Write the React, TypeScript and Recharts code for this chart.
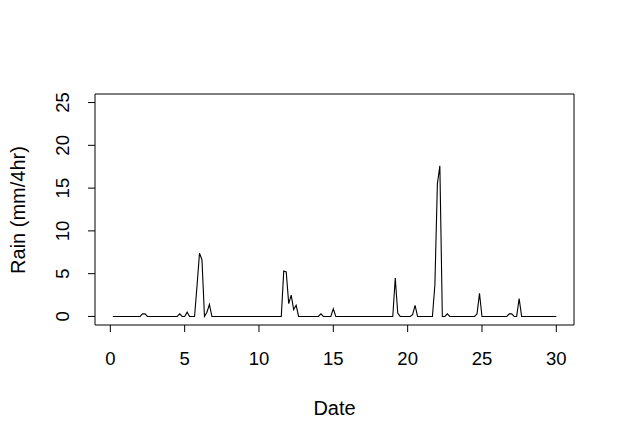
import { LineChart, Line, XAxis, YAxis, ReferenceArea } from 'recharts'

// rain (mm per 4 hr), one row per day: values at d+1/6, d+2/6 ... d+1
const RAIN_BY_DAY = [
  [0, 0, 0, 0, 0, 0],
  [0, 0, 0, 0, 0, 0],
  [0.3, 0.3, 0, 0, 0, 0],
  [0, 0, 0, 0, 0, 0],
  [0, 0, 0, 0.3, 0, 0],
  [0.5, 0, 0, 0, 3.6, 7.4],
  [6.6, 0, 0.5, 1.4, 0, 0],
  [0, 0, 0, 0, 0, 0],
  [0, 0, 0, 0, 0, 0],
  [0, 0, 0, 0, 0, 0],
  [0, 0, 0, 0, 0, 0],
  [0, 0, 0, 5.3, 5.2, 1.5],
  [2.5, 0.8, 1.3, 0, 0, 0],
  [0, 0, 0, 0, 0, 0],
  [0.3, 0, 0, 0, 0, 0.9],
  [0, 0, 0, 0, 0, 0],
  [0, 0, 0, 0, 0, 0],
  [0, 0, 0, 0, 0, 0],
  [0, 0, 0, 0, 0, 0],
  [4.5, 0.4, 0, 0, 0, 0],
  [0, 0.2, 1.3, 0, 0, 0],
  [0, 0, 0, 0, 3.7, 15.5],
  [17.6, 0, 0, 0.3, 0, 0],
  [0, 0, 0, 0, 0, 0],
  [0, 0, 0, 0.3, 2.7, 0],
  [0, 0, 0, 0, 0, 0],
  [0, 0, 0, 0, 0.3, 0.3],
  [0, 0, 2.1, 0, 0, 0],
  [0, 0, 0, 0, 0, 0],
  [0, 0, 0, 0, 0, 0],
]

const STEPS_PER_DAY = 6
const X_TICKS = [0, 5, 10, 15, 20, 25, 30]
const Y_TICKS = [0, 5, 10, 15, 20, 25]
const X_DOMAIN = [-1.03, 31.19]
const Y_DOMAIN = [-1, 26]

const data = RAIN_BY_DAY.flatMap((row, d) =>
  row.map((rain, j) => ({ date: d + (j + 1) / STEPS_PER_DAY, rain }))
)

const FONT = '"Liberation Sans", Arial, sans-serif'

const XTick = ({ x, y, payload }: any) => (
  <text x={x} y={y} dy="0.71em" textAnchor="middle" fontSize={18.5} fontFamily={FONT} fill="#000">
    {payload.value}
  </text>
)

const YTick = ({ x, y, payload }: any) => (
  <text
    x={x}
    y={y}
    transform={`rotate(-90, ${x}, ${y})`}
    textAnchor="middle"
    fontSize={18.5}
    fontFamily={FONT}
    fill="#000"
  >
    {payload.value}
  </text>
)

export default function App() {
  return (
    <div style={{ position: 'absolute', left: 0, top: 0, width: 623, height: 442, background: '#fff' }}>
      <LineChart
        width={623}
        height={442}
        data={data}
        margin={{ top: 94, right: 49, bottom: 77, left: 55 }}
      >
        <XAxis
          dataKey="date"
          type="number"
          domain={X_DOMAIN}
          ticks={X_TICKS}
          allowDataOverflow
          axisLine={false}
          tickSize={7}
          tickMargin={20}
          tickLine={{ stroke: '#000' }}
          tick={<XTick />}
          height={40}
        />
        <YAxis
          type="number"
          domain={Y_DOMAIN}
          ticks={Y_TICKS}
          allowDataOverflow
          axisLine={false}
          tickSize={7}
          tickMargin={19}
          tickLine={{ stroke: '#000' }}
          tick={<YTick />}
          width={40}
        />
        <ReferenceArea
          x1={X_DOMAIN[0]}
          x2={X_DOMAIN[1]}
          y1={Y_DOMAIN[0]}
          y2={Y_DOMAIN[1]}
          fill="none"
          stroke="#000"
          strokeWidth={1}
          ifOverflow="visible"
        />
        <Line
          type="linear"
          dataKey="rain"
          stroke="#000"
          strokeWidth={1.1}
          dot={false}
          isAnimationActive={false}
        />
      </LineChart>
      <svg
        width={623}
        height={442}
        style={{ position: 'absolute', left: 0, top: 0, pointerEvents: 'none' }}
      >
        <text x={334.5} y={415} textAnchor="middle" fontSize={20} fontFamily={FONT} fill="#000">
          Date
        </text>
        <text
          x={25}
          y={210}
          transform="rotate(-90, 25, 210)"
          textAnchor="middle"
          fontSize={20}
          fontFamily={FONT}
          fill="#000"
        >
          Rain (mm/4hr)
        </text>
      </svg>
    </div>
  )
}
